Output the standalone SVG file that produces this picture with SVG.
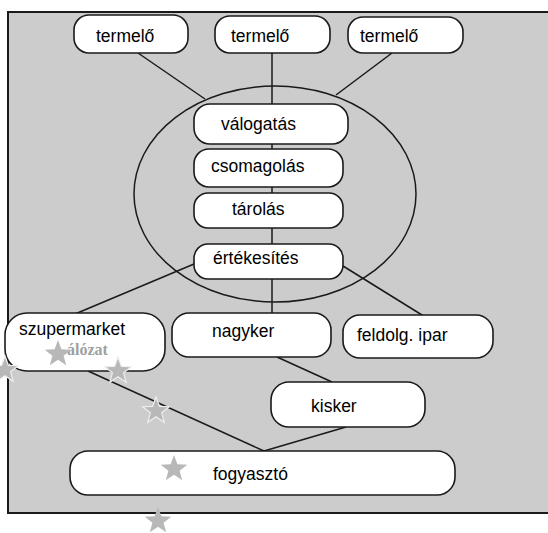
<svg xmlns="http://www.w3.org/2000/svg" width="548" height="533" viewBox="0 0 548 533">
<style>
.box{fill:#fff;stroke:#1a1a1a;stroke-width:1.6}
.lbl{font-family:"Liberation Sans",Arial,sans-serif;font-size:17.5px;fill:#000}
.con line,.con path{stroke:#1a1a1a;stroke-width:1.5;fill:none}
.star{fill:#b8b8b8;stroke:#eeeeee;stroke-width:1.2}
</style>
<defs>
<polygon id="st" points="0,-14 3.4,-4.7 13.3,-4.3 5.6,1.8 8.2,11.3 0,5.8 -8.2,11.3 -5.6,1.8 -13.3,-4.3 -3.4,-4.7"/>
</defs>
<rect width="548" height="533" fill="#fff"/>
<rect x="8" y="12" width="560" height="501" fill="#cccccc" stroke="#1a1a1a" stroke-width="2"/>
<g class="con" id="connectors">
<ellipse cx="275" cy="194" rx="141" ry="108" fill="none" stroke="#1a1a1a" stroke-width="1.5"/>
<line x1="138" y1="53" x2="205" y2="99"/>
<line x1="272" y1="53" x2="272" y2="104"/>
<line x1="392" y1="53" x2="336" y2="95"/>
<line x1="272" y1="144" x2="272" y2="149"/>
<line x1="272" y1="187" x2="272" y2="193"/>
<line x1="272" y1="228" x2="272" y2="244"/>
<line x1="272" y1="279" x2="272" y2="313"/>
<line x1="194" y1="264" x2="75" y2="314"/>
<line x1="343" y1="266" x2="430" y2="320"/>
<line x1="277" y1="357" x2="332" y2="382"/>
<line x1="88" y1="371" x2="264" y2="451"/>
<line x1="346" y1="427" x2="264" y2="451"/>
</g>
<g id="termelo1"><rect class="box" x="74" y="15" width="114" height="38" rx="15"/><text class="lbl" x="96" y="42">termelő</text></g>
<g id="termelo2"><rect class="box" x="215" y="16" width="115" height="37" rx="15"/><text class="lbl" x="231" y="42">termelő</text></g>
<g id="termelo3"><rect class="box" x="348" y="17" width="115" height="36" rx="15"/><text class="lbl" x="360" y="42">termelő</text></g>
<g id="valogatas"><rect class="box" x="194" y="104" width="154" height="40" rx="16"/><text class="lbl" x="221" y="130">válogatás</text></g>
<g id="csomagolas"><rect class="box" x="194" y="149" width="149" height="38" rx="15"/><text class="lbl" x="211" y="172">csomagolás</text></g>
<g id="tarolas"><rect class="box" x="194" y="193" width="149" height="35" rx="14"/><text class="lbl" x="232" y="215">tárolás</text></g>
<g id="ertekesites"><rect class="box" x="194" y="244" width="149" height="35" rx="14"/><text class="lbl" x="213" y="264">értékesítés</text></g>
<g id="szupermarket"><rect class="box" x="5" y="313" width="160" height="58" rx="22"/><text class="lbl" x="19" y="335">szupermarket</text><text x="67" y="355" font-family="'Liberation Serif',serif" font-size="16" font-weight="bold" fill="#a0a0a0">álózat</text></g>
<g id="nagyker"><rect class="box" x="172" y="313" width="159" height="44" rx="17"/><text class="lbl" x="212" y="337">nagyker</text></g>
<g id="feldolg"><rect class="box" x="343" y="315" width="150" height="43" rx="17"/><text class="lbl" x="357" y="341">feldolg. ipar</text></g>
<g id="kisker"><rect class="box" x="271" y="382" width="154" height="45" rx="18"/><text class="lbl" x="311" y="412">kisker</text></g>
<g id="fogyaszto"><rect class="box" x="70" y="451" width="385" height="44" rx="18"/><text class="lbl" x="213" y="480">fogyasztó</text></g>
<g id="stars">
<use href="#st" class="star" x="5" y="370"/>
<use href="#st" class="star" x="58" y="354" style="stroke:none"/>
<use href="#st" class="star" x="118" y="371"/>
<use href="#st" class="star" x="156" y="411"/>
<use href="#st" class="star" x="174" y="469" style="stroke:none"/>
<use href="#st" class="star" x="158" y="521" style="stroke:none"/>
</g>
</svg>
